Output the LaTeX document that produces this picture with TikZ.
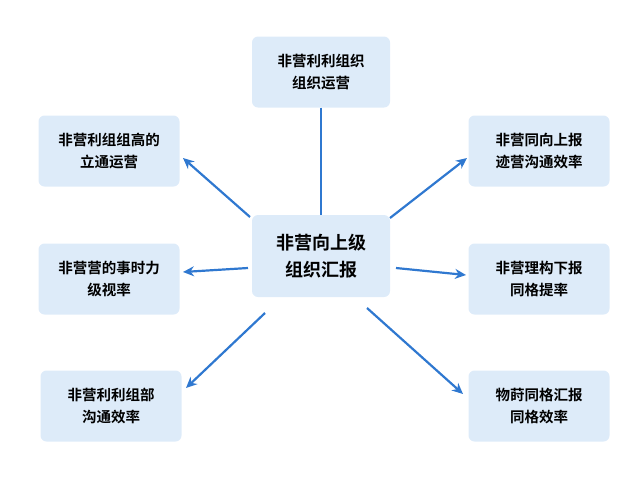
\documentclass[tikz,border=0pt]{standalone}
\usepackage{fontspec}
\setmainfont{Noto Sans CJK SC}[BoldFont={Noto Sans CJK SC Bold}]
\usetikzlibrary{arrows.meta}
\definecolor{boxblue}{HTML}{DDEBF9}
\definecolor{arrowblue}{HTML}{2F78D0}
\begin{document}
\begin{tikzpicture}
  [x=1pt,y=-1pt,every node/.style={rounded corners=6pt,fill=boxblue,align=center,
   minimum width=141pt,minimum height=71pt,font=\bfseries\fontsize{14.5}{22}\selectfont}]
  \tikzstyle{link} = [draw=arrowblue,line width=2.2pt,-{Stealth[length=11pt,width=10pt]}]
  \useasboundingbox (0,0) rectangle (640,480);
  \node (hub) at (321,256) [minimum width=138pt,minimum height=82pt,
    font=\bfseries\fontsize{18}{27}\selectfont] {非营向上级\\组织汇报};
  \node (top) at (321,72) [minimum width=138pt] {非营利利组织\\组织运营};
  \node (lt) at (109,151) {非营利组组高的\\立通运营};
  \node (lm) at (109,279) {非营营的事时力\\级视率};
  \node (lb) at (111,406) {非营利利组部\\沟通效率};
  \node (rt) at (539,151) {非营同向上报\\迹营沟通效率};
  \node (rm) at (539,279) {非营理构下报\\同格提率};
  \node (rb) at (539,406) {物莳同格汇报\\同格效率};

  % arrow ends, kept off the box edges
  \coordinate (c1) at (250,217);  \coordinate (e1) at (183,158);
  \coordinate (c2) at (390,218);  \coordinate (e2) at (467,158);
  \coordinate (c3) at (248,268);  \coordinate (e3) at (183,272);
  \coordinate (c4) at (396,268);  \coordinate (e4) at (466,275);
  \coordinate (c5) at (265,313);  \coordinate (e5) at (186,388);
  \coordinate (c6) at (367,308);  \coordinate (e6) at (463,394);
  \draw[draw=arrowblue,line width=2.2pt] (top) -- (hub);
  \foreach \source /\dest in {c1/e1,c2/e2,c3/e3,c4/e4,c5/e5,c6/e6}
    \draw[link] (\source) -- (\dest);
\end{tikzpicture}
\end{document}
